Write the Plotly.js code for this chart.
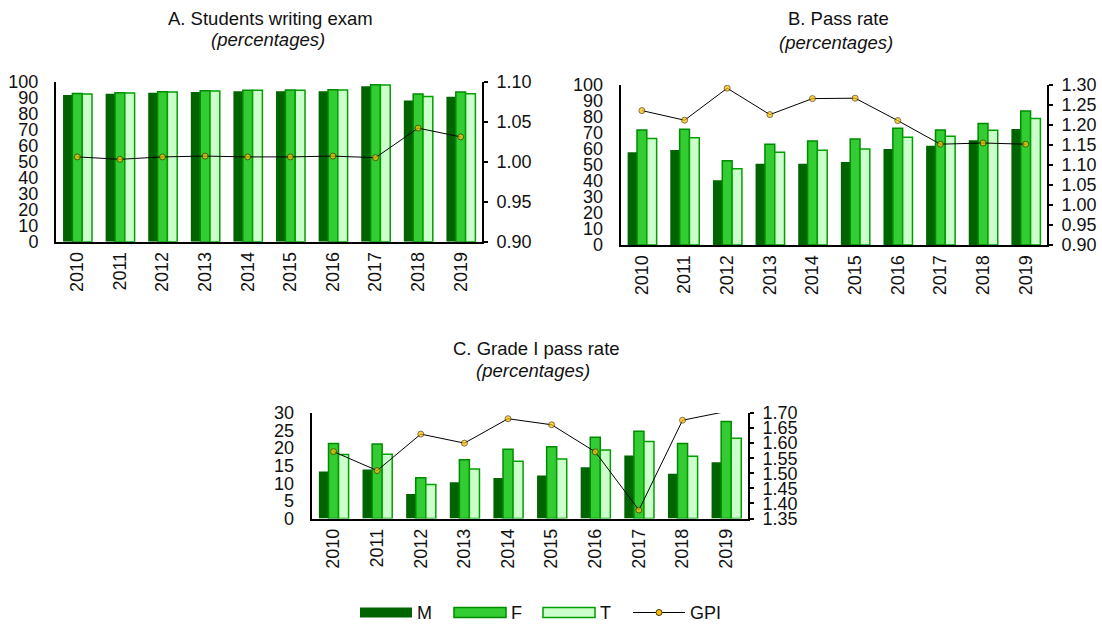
<!DOCTYPE html>
<html>
<head>
<meta charset="utf-8">
<script src="https://cdn.plot.ly/plotly-3.0.1.min.js"></script>
<style>html,body{margin:0;padding:0;background:#fff;}#chart{width:1102px;height:625px;}</style>
</head>
<body>
<div id="chart"></div>
<script>
// ---- Data ----
const years = ["2010","2011","2012","2013","2014","2015","2016","2017","2018","2019"];

// A. Students writing exam (percentages)
const examM = [91.7, 92.5, 93.1, 93.5, 94.0, 94.0, 94.0, 97.1, 88.3, 90.6];
const examF = [92.7, 93.1, 93.75, 94.4, 94.6, 94.8, 95.0, 98.1, 92.3, 93.5];
const examT = [92.3, 92.9, 93.5, 94.2, 94.6, 94.6, 94.8, 97.9, 90.8, 92.5];
const examGPI = [1.006, 1.003, 1.006, 1.007, 1.006, 1.006, 1.007, 1.005, 1.042, 1.031];

// B. Pass rate (percentages)
const passM = [57.9, 59.4, 40.4, 50.8, 50.8, 51.9, 60.0, 62.1, 65.4, 72.5];
const passF = [71.9, 72.3, 52.7, 62.9, 65.0, 66.2, 72.9, 71.9, 76.0, 83.7];
const passT = [66.5, 67.1, 47.7, 57.9, 59.2, 60.0, 67.3, 67.9, 71.7, 79.0];
const passGPI = [1.236, 1.212, 1.292, 1.226, 1.266, 1.267, 1.211, 1.152, 1.155, 1.152];

// C. Grade I pass rate (percentages)
const gradeM = [13.4, 13.9, 7.0, 10.3, 11.5, 12.2, 14.6, 17.9, 12.7, 16.0];
const gradeF = [21.3, 21.2, 11.6, 16.7, 19.7, 20.4, 23.1, 24.8, 21.3, 27.6];
const gradeT = [18.2, 18.3, 9.7, 14.1, 16.3, 16.9, 19.5, 21.9, 17.7, 22.8];
const gradeGPI = [1.572, 1.509, 1.630, 1.600, 1.681, 1.661, 1.571, 1.378, 1.676, 1.705];

const seriesNames = ["M", "F", "T", "GPI"];

// ---- Styles ----
const FONT = "Liberation Sans, Arial, sans-serif";
const W = 1102, H = 625;
const px = v => v / W;
const py = v => 1 - v / H;

const colM = "#006400";
const colF = "#33CC33", lineF = "#008A00";
const colT = "#CCFFCC", lineT = "#00A000";
const colDot = "#FFC000";

const BW = 0.23;
function barSet(xa, ya, m, f, t) {
  return [
    {type: "bar", name: seriesNames[0], x: years, y: m, xaxis: xa, yaxis: ya,
     offset: -0.335, width: BW, marker: {color: colM, line: {color: colM, width: 0}}, showlegend: false, hoverinfo: "y"},
    {type: "bar", name: seriesNames[1], x: years, y: f, xaxis: xa, yaxis: ya,
     offset: -BW / 2, width: BW, marker: {color: colF, line: {color: lineF, width: 1.5}}, showlegend: false, hoverinfo: "y"},
    {type: "bar", name: seriesNames[2], x: years, y: t, xaxis: xa, yaxis: ya,
     offset: BW / 2, width: BW, marker: {color: colT, line: {color: lineT, width: 1.5}}, showlegend: false, hoverinfo: "y"}
  ];
}
// points outside the axis range get no marker (as in the original)
function gpiLine(xa, ya, g, maxVal) {
  return {type: "scatter", mode: "lines+markers", name: seriesNames[3], x: years, y: g, xaxis: xa, yaxis: ya,
    line: {color: "#000", width: 1},
    marker: {color: colDot, size: g.map(v => v > maxVal ? 0 : 6), line: {color: "#4a3500", width: 1}},
    showlegend: false, cliponaxis: true, hoverinfo: "y"};
}

const rA = [0.9, 1.1], rB = [0.9, 1.3], rC = [1.35, 1.70];

const data = [
  ...barSet("x", "y", examM, examF, examT), gpiLine("x", "y2", examGPI, rA[1]),
  ...barSet("x2", "y3", passM, passF, passT), gpiLine("x2", "y4", passGPI, rB[1]),
  ...barSet("x3", "y5", gradeM, gradeF, gradeT), gpiLine("x3", "y6", gradeGPI, rC[1])
];

const tickFont = {family: FONT, size: 18, color: "#111"};
function xAx(x0, x1, anchor) {
  return {domain: [px(x0), px(x1)], anchor: anchor, type: "category", range: [-0.5, 9.5],
    tickangle: -90, tickfont: tickFont, showline: true, linecolor: "#000", linewidth: 2,
    ticks: "", showgrid: false, zeroline: false, fixedrange: true, ticklabelstandoff: 1};
}
function yLeft(y0, y1, anchor, range, dtick) {
  return {domain: [py(y1), py(y0)], anchor: anchor, range: range, dtick: dtick, tick0: 0,
    tickfont: tickFont, showline: true, linecolor: "#000", linewidth: 2, ticks: "",
    showgrid: false, zeroline: false, fixedrange: true, ticklabelstandoff: 12};
}
function yRight(over, anchor, range, dtick) {
  return {overlaying: over, side: "right", anchor: anchor, range: range, dtick: dtick, tick0: range[0],
    tickformat: ".2f", tickfont: tickFont, showline: true, linecolor: "#000", linewidth: 2,
    ticks: "outside", ticklen: 4, tickwidth: 2, tickcolor: "#000",
    showgrid: false, zeroline: false, fixedrange: true, ticklabelstandoff: 5};
}

const titleFont = {family: FONT, size: 18.5, color: "#111"};
function titleAnn(cx, cy, text, italic) {
  return {xref: "paper", yref: "paper", x: px(cx), y: py(cy), text: italic ? "<i>" + text + "</i>" : text,
    showarrow: false, xanchor: "center", yanchor: "middle", font: titleFont};
}

// Custom legend (wide swatches)
const legY0 = 607.5, legY1 = 617.5, legYc = 612.5;
const shapes = [
  {type: "rect", xref: "paper", yref: "paper", x0: px(360), x1: px(412), y0: py(legY1), y1: py(legY0),
   fillcolor: colM, line: {width: 0}},
  {type: "rect", xref: "paper", yref: "paper", x0: px(454), x1: px(506), y0: py(legY1), y1: py(legY0),
   fillcolor: colF, line: {color: lineF, width: 1.5}},
  {type: "rect", xref: "paper", yref: "paper", x0: px(543), x1: px(595), y0: py(legY1), y1: py(legY0),
   fillcolor: colT, line: {color: lineT, width: 1.5}},
  {type: "line", xref: "paper", yref: "paper", x0: px(633), x1: px(685), y0: py(legYc), y1: py(legYc),
   line: {color: "#000", width: 1}},
  {type: "circle", xref: "paper", yref: "paper", x0: px(656), x1: px(662), y0: py(legYc + 3), y1: py(legYc - 3),
   fillcolor: colDot, line: {color: "#4a3500", width: 1}}
];
const legFont = {family: FONT, size: 18, color: "#111"};
function legAnn(x, text) {
  return {xref: "paper", yref: "paper", x: px(x), y: py(legYc), text: text, showarrow: false,
    xanchor: "left", yanchor: "middle", font: legFont};
}

const layout = {
  width: W, height: H,
  margin: {l: 0, r: 0, t: 0, b: 0},
  paper_bgcolor: "#fff", plot_bgcolor: "rgba(0,0,0,0)",
  barmode: "overlay",
  showlegend: false,
  font: {family: FONT, color: "#111"},
  xaxis: xAx(56, 482, "y"),
  yaxis: yLeft(81.7, 241.7, "x", [0, 100], 10),
  yaxis2: yRight("y", "x", rA, 0.05),
  xaxis2: xAx(620.6, 1047, "y3"),
  yaxis3: yLeft(85, 245, "x2", [0, 100], 10),
  yaxis4: yRight("y3", "x2", rB, 0.05),
  xaxis3: xAx(311.7, 748, "y5"),
  yaxis5: yLeft(413, 518.5, "x3", [0, 30], 5),
  yaxis6: yRight("y5", "x3", rC, 0.05),
  shapes: shapes,
  annotations: [
    titleAnn(270, 18, "A. Students writing exam", false),
    titleAnn(268, 39, "(percentages)", true),
    titleAnn(838, 19, "B. Pass rate", false),
    titleAnn(836, 42, "(percentages)", true),
    titleAnn(536, 348, "C. Grade I pass rate", false),
    titleAnn(533, 370, "(percentages)", true),
    legAnn(415, seriesNames[0]),
    legAnn(509, seriesNames[1]),
    legAnn(598, seriesNames[2]),
    legAnn(688, seriesNames[3])
  ]
};

Plotly.newPlot("chart", data, layout, {staticPlot: true, displayModeBar: false});
</script>
</body>
</html>
